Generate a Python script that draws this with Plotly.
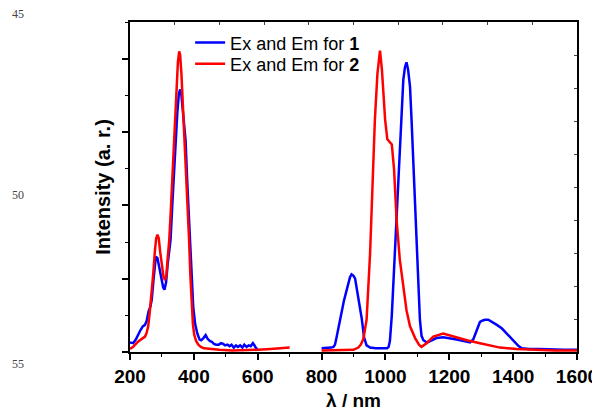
import plotly.graph_objects as go

# ---- data (wavelength nm, intensity a.u.) ----
ex1_nm = [200, 210, 218, 226, 233, 240, 247, 252, 258, 264, 268, 274, 278, 281, 286, 292, 298, 304, 308,
          313, 318, 323, 327, 333, 338, 343, 348, 353, 357, 361, 365, 370, 374, 379, 384, 388, 393, 398,
          404, 411, 418, 423, 430, 437, 443, 450, 456, 463, 470, 478, 485, 492, 498, 505, 512, 518, 525,
          532, 538, 545, 552, 558, 565, 572, 578, 585, 590, 595, 600]
ex1_int = [0.13, 0.12, 0.17, 0.25, 0.30, 0.35, 0.37, 0.42, 0.55, 0.62, 0.71, 1.00, 1.22, 1.30, 1.28, 1.15, 0.98, 0.88, 0.85,
           0.95, 1.20, 1.38, 1.53, 2.05, 2.50, 2.89, 3.25, 3.52, 3.58, 3.50, 3.30, 3.10, 2.89, 2.35, 1.90, 1.53, 1.05, 0.62,
           0.38, 0.25, 0.17, 0.16, 0.19, 0.23, 0.18, 0.15, 0.14, 0.11, 0.10, 0.10, 0.12, 0.11, 0.09, 0.10, 0.08, 0.10, 0.06,
           0.09, 0.07, 0.09, 0.06, 0.10, 0.07, 0.09, 0.08, 0.12, 0.09, 0.05, 0.04]

em1_nm = [800, 810, 820, 830, 837, 842, 847, 852, 858, 863, 870, 879, 884, 889, 894, 900, 905, 910, 915, 920, 926, 933,
          941, 952, 970, 990, 1005, 1010, 1014, 1020, 1025, 1030, 1035, 1040, 1046, 1051, 1056, 1061, 1066, 1071, 1077,
          1082, 1087, 1092, 1098, 1103, 1108, 1113, 1119, 1130, 1145, 1160, 1181, 1200, 1223, 1245, 1265, 1275, 1285,
          1296, 1305, 1312, 1322, 1335, 1349, 1365, 1380, 1393, 1406, 1417, 1427, 1450, 1480, 1520, 1560, 1600]
em1_int = [0.05, 0.05, 0.05, 0.06, 0.07, 0.10, 0.20, 0.32, 0.46, 0.57, 0.70, 0.85, 0.95, 1.02, 1.06, 1.04, 1.00, 0.88, 0.75, 0.62, 0.45, 0.20,
           0.09, 0.06, 0.05, 0.05, 0.05, 0.07, 0.15, 0.50, 0.95, 1.35, 1.80, 2.35, 2.94, 3.35, 3.71, 3.88, 3.95, 3.85, 3.62,
           3.15, 2.62, 2.00, 1.35, 0.85, 0.44, 0.22, 0.16, 0.13, 0.16, 0.19, 0.20, 0.19, 0.17, 0.15, 0.13, 0.17, 0.28,
           0.41, 0.43, 0.44, 0.44, 0.41, 0.37, 0.32, 0.25, 0.19, 0.14, 0.08, 0.05, 0.04, 0.04, 0.03, 0.03, 0.03]

ex2_nm = [200, 210, 225, 235, 247, 252, 257, 262, 268, 273, 278, 282, 286, 290, 295, 300, 305, 310, 314, 318, 323, 328,
          333, 339, 343, 347, 350, 354, 357, 361, 365, 370, 375, 380, 385, 389, 393, 397, 401, 407, 414, 422, 432, 450,
          480, 520, 560, 600, 640, 670, 700]
ex2_int = [0.04, 0.07, 0.14, 0.17, 0.21, 0.26, 0.35, 0.55, 0.80, 1.08, 1.38, 1.55, 1.60, 1.55, 1.35, 1.15, 1.02, 0.98, 1.05, 1.28, 1.53, 1.95,
           2.40, 2.89, 3.30, 3.70, 3.95, 4.10, 4.05, 3.80, 3.45, 2.89, 2.45, 1.95, 1.53, 1.05, 0.62, 0.38, 0.24, 0.15, 0.10, 0.07, 0.05, 0.04,
           0.03, 0.02, 0.02, 0.03, 0.04, 0.05, 0.06]

em2_nm = [800, 830, 860, 900, 915, 923, 931, 941, 952, 960, 967, 975, 983, 989, 994, 999, 1006, 1012, 1020, 1027, 1035,
          1045, 1056, 1066, 1077, 1093, 1105, 1113, 1129, 1150, 1181, 1213, 1255, 1296, 1328, 1359, 1411, 1464, 1530, 1600]
em2_int = [0.02, 0.02, 0.02, 0.03, 0.06, 0.10, 0.18, 0.44, 1.35, 2.49, 3.17, 3.80, 4.11, 3.85, 3.50, 3.17, 2.90, 2.87, 2.83, 2.49, 1.80,
           1.26, 0.89, 0.57, 0.35, 0.19, 0.10, 0.07, 0.12, 0.21, 0.25, 0.21, 0.16, 0.12, 0.09, 0.06, 0.04, 0.03, 0.02, 0.02]

series_names = ["Ex and Em for <b>1</b>", "Ex and Em for <b>2</b>"]
x_ticks = [200, 400, 600, 800, 1000, 1200, 1400, 1600]
margin_labels = ["45", "50", "55"]

FONT = "Liberation Sans, Arial, sans-serif"

fig = go.Figure()
fig.add_trace(go.Scatter(x=ex1_nm + [None] + em1_nm, y=ex1_int + [None] + em1_int,
                         mode="lines", name=series_names[0], legend="legend",
                         line=dict(color="#0000FF", width=2.5)))
fig.add_trace(go.Scatter(x=ex2_nm + [None] + em2_nm, y=ex2_int + [None] + em2_int,
                         mode="lines", name=series_names[1], legend="legend2",
                         line=dict(color="#FF0000", width=2.5)))
# invisible trace to carry the mirrored (top/right) axes
fig.add_trace(go.Scatter(x=[0, 10], y=[0, 10], xaxis="x2", yaxis="y2", mode="lines",
                         line=dict(width=0), showlegend=False, hoverinfo="skip", opacity=0))

legend_style = dict(xanchor="left", yanchor="top", bgcolor="rgba(0,0,0,0)",
                    font=dict(family=FONT, size=18, color="black"), itemwidth=30)

# page body has an 8px margin, so the figure is sized to fit the 600x413 window
fig.update_layout(
    width=592, height=405,
    margin=dict(l=122, r=23, t=14, b=61),
    paper_bgcolor="white", plot_bgcolor="white",
    showlegend=True,
    legend=dict(x=0.1345, y=0.993, **legend_style),
    legend2=dict(x=0.1345, y=0.929, **legend_style),
    xaxis=dict(range=[200, 1600], tickvals=x_ticks, ticks="outside", ticklen=6, tickwidth=1.5,
               tickcolor="black", showline=True, linecolor="black", linewidth=1.5,
               showgrid=False, zeroline=False, automargin=False,
               minor=dict(dtick=100, tick0=200, ticks="outside", ticklen=3, tickwidth=1.2, tickcolor="black", showgrid=False),
               tickfont=dict(family=FONT, size=19, color="black", weight="bold"),
               title=dict(text="λ / nm", font=dict(family=FONT, size=19, color="black", weight="bold"), standoff=8)),
    yaxis=dict(range=[0, 4.5], tick0=0, dtick=1, ticks="outside", ticklen=6, tickwidth=1.5,
               tickcolor="black", showline=True, linecolor="black", linewidth=1.5,
               showgrid=False, zeroline=False, showticklabels=False, automargin=False,
               minor=dict(dtick=0.5, tick0=0, ticks="outside", ticklen=3, tickwidth=1.2, tickcolor="black", showgrid=False),
               title=dict(text="Intensity (a. r.)", font=dict(family=FONT, size=20, color="black", weight="bold"), standoff=6)),
    xaxis2=dict(range=[0, 10], overlaying="x", side="top", dtick=1, tick0=0, ticks="inside", ticklen=3,
                tickwidth=1, tickcolor="#444", showline=True, linecolor="black", linewidth=1.5,
                showgrid=False, zeroline=False, showticklabels=False, automargin=False),
    yaxis2=dict(range=[0, 10], overlaying="y", side="right", dtick=1, tick0=0, ticks="inside", ticklen=3,
                tickwidth=1, tickcolor="#444", showline=True, linecolor="black", linewidth=1.5,
                showgrid=False, zeroline=False, showticklabels=False, automargin=False),
)

for lab, yp in zip(margin_labels, [1.024, 0.476, -0.036]):
    fig.add_annotation(text=lab, xref="paper", yref="paper", x=-0.25, y=yp,
                       xanchor="center", yanchor="middle", showarrow=False,
                       font=dict(family="Liberation Serif, Times New Roman, serif", size=12, color="#444"))

fig.write_html("out.html")
